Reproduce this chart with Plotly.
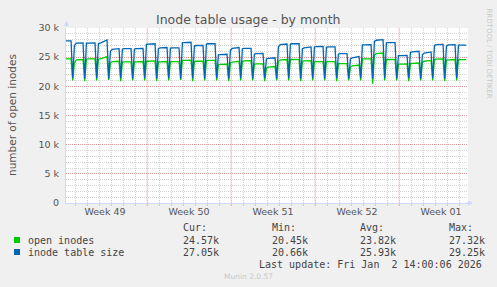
import plotly.graph_objects as go

# ---------------- data ----------------
# x axis unit: days since Mon 2025-12-01 00:00
axis_start = 0.25
axis_end = 33.75
data_end = 33.6

# daily dip times (days)
drop_days = [0.81, 1.81, 2.81, 3.81, 4.81, 5.81, 6.81, 7.81, 8.81, 9.81, 10.81,
             11.81, 12.81, 13.81, 14.81, 15.81, 16.81, 17.81, 18.81, 19.81, 20.81,
             21.81, 22.81, 23.81, 24.81, 25.81, 26.81, 27.81, 28.81, 29.81, 30.81,
             31.81, 32.81]

# inode table size, per segment between dips (k) : start / plateau / end  (k inodes)
size_start = [27.8, 27.0, 27.4, 27.35, 26.0, 26.4, 26.4, 27.2, 26.5, 26.55, 27.5,
              26.95, 27.25, 25.4, 26.2, 26.45, 25.55, 24.7, 26.75, 27.25, 26.45,
              26.75, 26.7, 25.55, 24.7, 27.1, 27.7, 27.45, 25.25, 25.8, 25.4,
              27.0, 26.9, 27.05]
size_plateau = [27.8, 27.4, 27.4, 27.4, 26.35, 26.45, 26.45, 27.25, 26.6, 26.6, 27.5,
                27.0, 27.3, 25.45, 26.5, 26.5, 25.6, 24.8, 27.15, 27.3, 26.6,
                26.8, 26.75, 25.6, 24.9, 27.1, 27.9, 27.5, 25.25, 25.9, 25.7,
                27.15, 27.1, 27.05]
size_end = [27.8, 27.45, 27.45, 27.95, 26.45, 26.45, 26.5, 27.3, 26.65, 26.6, 27.55,
            27.0, 27.3, 25.5, 26.65, 26.5, 25.65, 24.9, 27.25, 27.3, 26.75,
            26.85, 26.75, 25.6, 25.1, 27.15, 28.0, 27.5, 25.3, 26.0, 25.9,
            27.2, 27.15, 27.05]
size_dip = [21.4, 21.3, 21.4, 21.3, 21.4, 21.3, 21.4, 21.3, 21.4, 21.3, 21.4,
            21.3, 21.4, 21.3, 21.4, 21.3, 21.4, 21.3, 21.4, 21.3, 21.4,
            21.3, 21.4, 21.3, 21.4, 21.3, 21.4, 21.3, 21.4, 21.3, 21.4,
            21.3, 21.4]

# open inodes
open_start = [24.7, 24.0, 24.65, 24.65, 24.0, 24.2, 24.2, 24.3, 24.2, 24.2, 24.45,
              24.25, 24.4, 23.7, 24.0, 24.3, 23.8, 23.1, 24.3, 24.6, 24.3,
              24.2, 24.2, 23.9, 23.3, 24.7, 25.4, 24.6, 23.8, 23.9, 24.1,
              24.6, 24.5, 24.57]
open_plateau = [24.7, 24.55, 24.7, 24.7, 24.25, 24.2, 24.2, 24.3, 24.2, 24.25, 24.45,
                24.3, 24.45, 23.75, 24.15, 24.35, 23.85, 23.3, 24.55, 24.6, 24.35,
                24.25, 24.25, 23.9, 23.5, 24.7, 25.6, 24.6, 23.8, 23.95, 24.3,
                24.65, 24.55, 24.57]
open_end = [24.7, 24.6, 24.7, 25.1, 24.3, 24.2, 24.25, 24.35, 24.25, 24.25, 24.5,
            24.3, 24.45, 23.8, 24.3, 24.4, 23.85, 23.4, 24.6, 24.6, 24.4,
            24.25, 24.25, 23.9, 23.65, 24.7, 25.7, 24.6, 23.85, 24.0, 24.45,
            24.7, 24.6, 24.57]
open_dip = [21.0, 20.9, 21.0, 21.1, 20.9, 21.0, 21.0, 20.9, 21.0, 21.1, 20.9,
            21.0, 21.0, 20.9, 21.0, 21.0, 20.9, 21.0, 21.0, 20.9, 21.0,
            21.0, 20.9, 21.0, 21.0, 20.45, 21.0, 21.0, 20.9, 21.0, 21.0,
            20.9, 21.0]

week_starts = [7, 14, 21, 28]
week_mid = [3.5, 10.5, 17.5, 24.5, 31.5]
week_labels = ["Week 49", "Week 50", "Week 51", "Week 52", "Week 01"]
y_ticks = [0, 5000, 10000, 15000, 20000, 25000, 30000]
y_labels = ["0", "5 k", "10 k", "15 k", "20 k", "25 k", "30 k"]

series_names = ["open inodes", "inode table size"]
series_colors = ["#00CC00", "#0066B3"]
stat_cur = ["24.57k", "27.05k"]
stat_min = ["20.45k", "20.66k"]
stat_avg = ["23.82k", "25.93k"]
stat_max = ["27.32k", "29.25k"]

title = "Inode table usage - by month"
y_title = "number of open inodes"
last_update = "Last update: Fri Jan\u00a0\u00a02 14:00:06 2026"

DIP_HALF = 0.14   # half-width of each daily dip (days)
RAMP = 0.3        # time to recover to the plateau (days)


def build(start, plateau, end, dip):
    xs, ys = [], []
    n = len(start)
    for k in range(n):
        a = axis_start if k == 0 else drop_days[k - 1]
        b = drop_days[k] if k < len(drop_days) else data_end
        if k == 0:
            xs += [a, b - DIP_HALF]
            ys += [start[k], end[k]]
        else:
            xs += [a + DIP_HALF, a + RAMP]
            ys += [start[k], plateau[k]]
            xs.append(b - DIP_HALF if k < len(drop_days) else b)
            ys.append(end[k])
        if k < len(drop_days):
            xs.append(drop_days[k])
            ys.append(dip[k])
    return xs, [v * 1000 for v in ys]


W, H = 497, 287
L, R, T, B = 66, 29, 28, 84
PW, PH = W - L - R, H - T - B


def px(x):
    return (x - L) / PW


def py(y):
    return 1 - (y - T) / PH


fig = go.Figure()
ox, oy = build(open_start, open_plateau, open_end, open_dip)
sx, sy = build(size_start, size_plateau, size_end, size_dip)
fig.add_trace(go.Scatter(x=ox, y=oy, mode="lines", name=series_names[0],
                         line=dict(color=series_colors[0], width=1.3)))
fig.add_trace(go.Scatter(x=sx, y=sy, mode="lines", name=series_names[1],
                         line=dict(color=series_colors[1], width=1.3)))

GRID = "rgba(160,160,160,0.45)"
MGRID = "rgba(230,110,110,0.55)"
AXIS = "#CFD6F8"
FONT = "#555555"
DASH = "1px,1px"

fig.update_layout(
    width=W, height=H, margin=dict(l=L, r=R, t=T, b=B, pad=0),
    paper_bgcolor="#F0F0F0", plot_bgcolor="#FFFFFF",
    showlegend=False,
    font=dict(family="DejaVu Sans", size=10, color=FONT),
    xaxis=dict(range=[axis_start, axis_end], tickmode="array", tickvals=week_mid,
               ticktext=week_labels, showgrid=False, zeroline=False, ticks="",
               showline=True, linecolor=AXIS, linewidth=1,
               tickfont=dict(family="DejaVu Sans", size=9.5, color=FONT),
               minor=dict(tickmode="linear", tick0=0, dtick=1, showgrid=True,
                          gridcolor=GRID, griddash=DASH, gridwidth=1,
                          ticks="outside", ticklen=2, tickcolor=GRID)),
    yaxis=dict(range=[0, 30000], tickmode="array", tickvals=y_ticks, ticktext=y_labels,
               showgrid=True, gridcolor=MGRID, griddash=DASH, gridwidth=1,
               zeroline=False, ticks="", showline=True, linecolor=AXIS, linewidth=1,
               ticklabelstandoff=4,
               tickfont=dict(family="DejaVu Sans", size=9.5, color=FONT),
               minor=dict(tickmode="linear", tick0=0, dtick=1000, showgrid=True,
                          gridcolor=GRID, griddash=DASH, gridwidth=1)),
)

# weekly major grid lines
for w in week_starts:
    fig.add_shape(type="line", xref="x", yref="paper", x0=w, x1=w, y0=-0.015, y1=1,
                  line=dict(color=MGRID, width=1, dash=DASH), layer="below")

ann = []
ann.append(dict(text=title, x=px(248), y=py(19), font=dict(size=12.5, color=FONT)))
ann.append(dict(text=y_title, x=px(12), y=py(115), textangle=-90,
                font=dict(size=10.5, color=FONT)))
ann.append(dict(text="RRDTOOL / TOBI OETIKER", x=px(488.5), y=py(53), textangle=90,
                font=dict(size=7, color="#C8C8C8")))
mono = dict(family="DejaVu Sans Mono", size=10, color="#444444")
cols = [181, 270, 358, 447]
for cx, h in zip(cols, ["Cur:", "Min:", "Avg:", "Max:"]):
    ann.append(dict(text=h, x=px(cx), y=py(227), xanchor="left", font=mono))
rows = [240, 252]
for i in range(2):
    ann.append(dict(text=series_names[i], x=px(26), y=py(rows[i]), xanchor="left", font=mono))
    for cx, v in zip(cols, [stat_cur[i], stat_min[i], stat_avg[i], stat_max[i]]):
        ann.append(dict(text=v, x=px(cx), y=py(rows[i]), xanchor="left", font=mono))
    fig.add_shape(type="rect", xref="paper", yref="paper",
                  x0=px(14), x1=px(20), y0=py(rows[i] + 3), y1=py(rows[i] - 3),
                  fillcolor=series_colors[i], line=dict(width=0))
ann.append(dict(text=last_update, x=px(484), y=py(264), xanchor="right", font=mono))
ann.append(dict(text="Munin 2.0.57", x=px(248), y=py(276),
                font=dict(size=7.5, color="#C8C8C8")))
for a in ann:
    a.setdefault("xref", "paper")
    a.setdefault("yref", "paper")
    a.setdefault("showarrow", False)
    a.setdefault("xanchor", "center")
    a.setdefault("yanchor", "middle")
    fig.add_annotation(**a)

# axis arrows
fig.add_annotation(x=px(66.5), y=py(21), ax=0, ay=7, xref="paper", yref="paper",
                   text="", showarrow=True, arrowhead=2, arrowsize=1, arrowwidth=1,
                   arrowcolor=AXIS)
fig.add_annotation(x=px(473), y=py(203), ax=-7, ay=0, xref="paper", yref="paper",
                   text="", showarrow=True, arrowhead=2, arrowsize=1, arrowwidth=1,
                   arrowcolor=AXIS)

fig.write_html("out.html")
